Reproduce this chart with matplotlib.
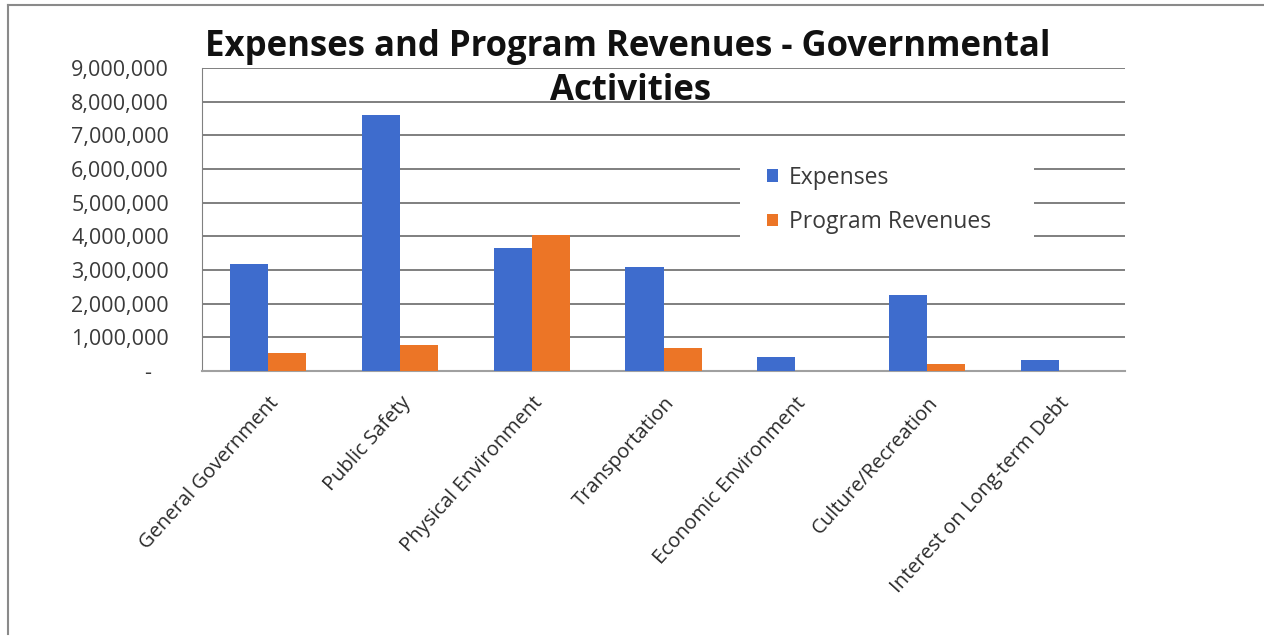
import numpy as np
import matplotlib.pyplot as plt
from matplotlib.ticker import FuncFormatter
from matplotlib.lines import Line2D
from matplotlib.patches import Rectangle

categories = ["General Government", "Public Safety", "Physical Environment",
              "Transportation", "Economic Environment", "Culture/Recreation",
              "Interest on Long-term Debt"]
expenses = [3180000, 7610000, 3650000, 3100000, 420000, 2260000, 330000]
program_revenues = [530000, 770000, 4040000, 680000, 0, 200000, 0]
yticks = np.arange(0, 9000001, 1000000)

blue = "#3E6CCD"
orange = "#EC7526"
text_col = "#3a3a3a"

plt.rcParams['font.family'] = ['Open Sans', 'DejaVu Sans']

fig = plt.figure(figsize=(12.64, 6.37), dpi=100)
ax = fig.add_axes([0.16, 0.4176, 0.73, 0.4756])

x = np.arange(len(categories))
w = 0.29
ax.bar(x - w / 2, expenses, w, color=blue, label="Expenses", zorder=3)
ax.bar(x + w / 2, program_revenues, w, color=orange, label="Program Revenues", zorder=3)

ax.set_xlim(-0.5, len(categories) - 0.5)
ax.set_ylim(0, 9000000)
ax.set_yticks(yticks)
ax.yaxis.set_major_formatter(FuncFormatter(lambda v, p: "-   " if v == 0 else f"{int(v):,}"))
ax.tick_params(axis='y', length=0, pad=24, labelsize=15.5, labelcolor=text_col)
ax.set_xticks(x)
ax.set_xticklabels(categories, rotation=48, ha='right', rotation_mode='anchor',
                   fontsize=14.5, color='#2a2a2a')
ax.tick_params(axis='x', length=0, pad=16)

ax.grid(axis='y', color='#6a6a6a', linewidth=1.2, zorder=0)
for s in ['top', 'right']:
    ax.spines[s].set_visible(False)
ax.spines['left'].set_color('#808080')
ax.spines['bottom'].set_color('#a0a0a0')
ax.spines['bottom'].set_linewidth(1.5)

# white block behind the legend, blanking the gridlines there
ax.add_patch(Rectangle((0.583, 0.43), 0.318, 0.28, transform=ax.transAxes,
                       facecolor='white', edgecolor='none', zorder=4))

leg = ax.legend(loc='center left', bbox_to_anchor=(0.6, 0.564), frameon=False,
                fontsize=16.5, handlelength=0.45, handleheight=0.45,
                handletextpad=0.5, labelspacing=0.9, borderpad=0.5,
                borderaxespad=0)
leg.set_zorder(5)
for t in leg.get_texts():
    t.set_color(text_col)

fig.text(0.497, 0.926, "Expenses and Program Revenues - Governmental",
         ha='center', va='center', fontsize=25, fontweight='bold', color='#111111')
fig.text(0.499, 0.857, "Activities",
         ha='center', va='center', fontsize=25, fontweight='bold', color='#111111')

# outer chart border
fig.add_artist(Line2D([0.0065, 0.999], [0.992, 0.992], color='#8a8a8a', lw=1.5))
fig.add_artist(Line2D([0.0065, 0.0065], [0.005, 0.992], color='#8a8a8a', lw=1.5))

fig.savefig("out.png", dpi=100)
